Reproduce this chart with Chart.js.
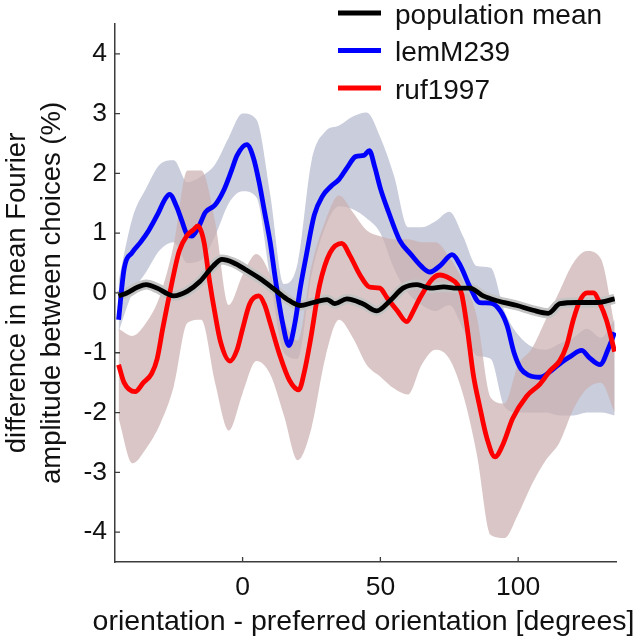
<!DOCTYPE html>
<html><head><meta charset="utf-8">
<script src="https://cdn.jsdelivr.net/npm/chart.js@4.4.1/dist/chart.umd.min.js"></script>
<style>html,body{margin:0;padding:0;background:#fff;}canvas{display:block;}</style>
</head><body>
<canvas id="c" width="635" height="640"></canvas>
<script>
// ---------- data ----------
const xTickValues = [0, 50, 100];
const yTickValues = [-4, -3, -2, -1, 0, 1, 2, 3, 4];
const xTitle = 'orientation - preferred orientation [degrees]';
const yTitle = ['difference in mean Fourier', 'amplitude between choices (%)'];

// population mean
const popAngles = [-45,-42,-38,-35,-31,-27,-25,-20,-15.5,-10.5,-7.5,-3.5,1.5,6.3,11,16,20.9,25.6,30.7,33.5,37.8,43.6,48.7,53.5,58.2,63.3,68,73,77.8,82.5,87.3,92.3,99.6,105.4,110.9,115.2,121.4,128.6,135];
const popMean = [-0.05,0.0,0.1,0.14,0.08,-0.02,-0.05,0.03,0.19,0.46,0.56,0.51,0.38,0.24,0.08,-0.1,-0.21,-0.16,-0.11,-0.18,-0.1,-0.18,-0.3,-0.13,0.08,0.14,0.08,0.1,0.08,0.08,-0.05,-0.13,-0.21,-0.29,-0.34,-0.18,-0.16,-0.16,-0.1];

// lemM239
const lemAngles = [-45,-43,-40,-37,-34,-31,-28,-26.5,-24,-22,-20,-18.5,-16,-13.5,-10,-7,-4,-2,1.5,4,6,8,10,12,14.5,16.8,19,21,23,26,29,32,35,38,41,44,46,48,50,53,57,61,65,68,72,76,79,82.5,86,90,93.5,96,98.5,101,104,108,112,116,119,123,126,129.7,133,135];
const lemMean = [-0.45,0.4,0.68,0.85,1.05,1.3,1.58,1.65,1.45,1.2,0.97,0.95,1.1,1.35,1.47,1.7,2.05,2.3,2.48,2.25,1.85,1.35,0.85,0.2,-0.5,-0.88,-0.5,0.1,0.6,1.3,1.62,1.78,1.9,2.1,2.28,2.3,2.38,2.1,1.75,1.35,0.88,0.65,0.44,0.35,0.47,0.64,0.46,0.1,-0.16,-0.17,-0.3,-0.55,-1.0,-1.27,-1.38,-1.41,-1.3,-1.15,-1.06,-0.96,-1.09,-1.2,-0.9,-0.66];

// ruf1997
const rufAngles = [-45,-43,-39,-36,-33,-31,-29,-26.5,-23,-20,-18,-16.2,-14,-12,-10,-8,-4.6,-2,0,2.6,5.9,8,10,13.5,17,20.4,22.5,24.5,28,31.7,36,39,42.6,46,49.8,52.4,56,59.6,62,64.4,69,71.6,75.3,77.8,79.5,81.4,83.7,86,88.6,91.6,94.5,98,103,108,111.6,115,117.6,120,122.4,125,127.3,129.7,132,135];
const rufMean = [-1.2,-1.5,-1.65,-1.5,-1.35,-1.1,-0.6,-0.02,0.7,0.97,1.05,1.12,0.85,0.2,-0.35,-0.82,-1.14,-0.95,-0.6,-0.18,-0.05,-0.2,-0.5,-1.04,-1.46,-1.62,-1.3,-0.82,0.14,0.67,0.83,0.62,0.3,0.1,0.08,-0.08,-0.29,-0.48,-0.3,-0.08,0.24,0.3,0.24,0.15,-0.02,-0.55,-1.36,-1.89,-2.42,-2.74,-2.53,-2.1,-1.73,-1.52,-1.3,-1.14,-0.88,-0.45,-0.13,0.0,0.0,-0.18,-0.45,-0.98];

// error bands (5 degree steps)
const bandAngles = [-45,-40,-35,-30,-25,-20,-15,-10,-5,0,5,10,15,20,25,30,35,40,45,50,55,60,65,70,75,80,85,90,95,100,105,110,115,120,125,130,135];
const lemUpper = [0.2,1.25,1.75,2.15,2.22,1.85,1.95,2.15,2.6,3.0,2.9,1.65,0.15,0.5,2.2,2.7,2.8,2.95,3.02,2.6,1.95,1.1,1.1,1.2,1.36,0.95,0.45,0.42,-0.3,-0.7,-0.9,-0.95,-0.85,-0.75,-0.6,-0.75,-0.45];
const lemLower = [-0.65,0.0,0.35,0.72,0.85,0.5,0.55,0.95,1.5,1.7,1.6,0.25,-1.0,-1.1,0.3,1.1,1.45,1.4,1.25,1.0,0.4,0.0,-0.2,-0.3,-0.2,-0.6,-1.05,-1.1,-1.9,-2.0,-2.0,-2.0,-2.05,-2.05,-2.0,-2.0,-2.05];
const rufUpper = [-0.6,-0.72,-0.5,-0.05,0.8,2.05,2.05,1.2,-0.2,0.3,0.65,0.3,-0.45,-0.8,0.45,1.2,1.63,1.35,1.05,0.95,0.9,0.9,0.85,0.85,0.6,0.2,-0.4,-1.75,-1.85,-1.2,-0.93,-0.45,0.03,0.5,0.7,0.57,-0.55];
const rufLower = [-2.1,-2.85,-2.6,-2.2,-1.57,-0.5,-0.45,-1.5,-2.3,-1.68,-1.14,-1.36,-2.05,-2.8,-2.26,-1.09,-0.45,-0.75,-1.2,-1.4,-1.6,-1.7,-1.2,-0.95,-1.1,-1.7,-2.7,-4.05,-4.1,-3.7,-3.2,-2.8,-2.5,-1.95,-1.6,-1.5,-2.0];

// ---------- helpers ----------
const pts = (xs, ys) => xs.map((x, i) => ({x: x, y: ys[i]}));
const FONT = "'Liberation Sans', Arial, Helvetica, sans-serif";
const TXT = '#111111';
const AXIS = '#3c3c3c';

const base = {pointRadius: 0, pointHoverRadius: 0, cubicInterpolationMode: 'monotone', spanGaps: true};

const datasets = [
  Object.assign({}, base, {label: 'lemM239 lower', data: pts(bandAngles, lemLower), borderWidth: 0, borderColor: 'rgba(0,0,0,0)', fill: false, order: 10}),
  Object.assign({}, base, {label: 'lemM239 upper', data: pts(bandAngles, lemUpper), borderWidth: 0, borderColor: 'rgba(0,0,0,0)', fill: '-1', backgroundColor: 'rgb(201,205,220)', order: 10}),
  Object.assign({}, base, {label: 'ruf1997 lower', data: pts(bandAngles, rufLower), borderWidth: 0, borderColor: 'rgba(0,0,0,0)', fill: false, order: 8}),
  Object.assign({}, base, {label: 'ruf1997 upper', data: pts(bandAngles, rufUpper), borderWidth: 0, borderColor: 'rgba(0,0,0,0)', fill: '-1', backgroundColor: 'rgba(204,176,176,0.72)', order: 8}),
  Object.assign({}, base, {label: 'population mean band', data: pts(popAngles, popMean), borderWidth: 10, borderColor: 'rgb(196,196,196)', fill: false, order: 5}),
  Object.assign({}, base, {label: 'lemM239', data: pts(lemAngles, lemMean), borderWidth: 4.8, borderColor: 'rgb(0,0,255)', fill: false, order: 3, legendRow: 1}),
  Object.assign({}, base, {label: 'ruf1997', data: pts(rufAngles, rufMean), borderWidth: 4.8, borderColor: 'rgb(255,0,0)', fill: false, order: 2, legendRow: 2}),
  Object.assign({}, base, {label: 'population mean', data: pts(popAngles, popMean), borderWidth: 4.8, borderColor: 'rgb(0,0,0)', fill: false, order: 1, legendRow: 0})
];

// inward tick marks
const insideTicks = {
  id: 'insideTicks',
  afterDatasetsDraw(chart) {
    const {ctx, chartArea: a, scales: {x, y}} = chart;
    ctx.save();
    ctx.strokeStyle = AXIS; ctx.lineWidth = 1.3;
    ctx.beginPath();
    x.ticks.forEach(t => { const px = x.getPixelForValue(t.value); ctx.moveTo(px, a.bottom); ctx.lineTo(px, a.bottom - 5); });
    y.ticks.forEach(t => { const py = y.getPixelForValue(t.value); ctx.moveTo(a.left, py); ctx.lineTo(a.left + 5, py); });
    ctx.stroke();
    ctx.restore();
  }
};

// x-axis title (drawn without width limit, centred under the plot)
const xAxisTitle = {
  id: 'xAxisTitle',
  afterDraw(chart) {
    const {ctx, chartArea: a} = chart;
    ctx.save();
    ctx.font = '28.5px ' + FONT;
    ctx.fillStyle = TXT;
    ctx.textAlign = 'center';
    ctx.textBaseline = 'alphabetic';
    ctx.fillText(xTitle, (a.left + a.right) / 2 - 2, chart.height - 10);
    ctx.restore();
  }
};

// legend drawn inside the plot (top right)
const insideLegend = {
  id: 'insideLegend',
  afterDraw(chart) {
    const {ctx} = chart;
    const rowsY = [13, 50.5, 88];
    ctx.save();
    ctx.font = '28px ' + FONT;
    ctx.textBaseline = 'alphabetic';
    ctx.textAlign = 'left';
    chart.data.datasets.forEach(ds => {
      if (ds.legendRow === undefined) return;
      const yy = rowsY[ds.legendRow];
      ctx.strokeStyle = ds.borderColor; ctx.lineWidth = 5; ctx.lineCap = 'butt';
      ctx.beginPath(); ctx.moveTo(338, yy); ctx.lineTo(381, yy); ctx.stroke();
      ctx.fillStyle = TXT;
      ctx.fillText(ds.label, 395, yy + 10.5);
    });
    ctx.restore();
  }
};

new Chart(document.getElementById('c'), {
  type: 'line',
  data: {datasets: datasets},
  options: {
    responsive: false, animation: false, devicePixelRatio: 1,
    layout: {padding: {left: 0, right: 19, top: 2, bottom: 0}},
    plugins: {legend: {display: false}, tooltip: {enabled: false}},
    events: [],
    scales: {
      x: {
        type: 'linear', min: -46.3, max: 135.5,
        afterBuildTicks: s => { s.ticks = xTickValues.map(v => ({value: v})); },
        afterFit: s => { s.height = 78; },
        grid: {display: true, drawOnChartArea: false, drawTicks: false},
        border: {display: true, color: AXIS, width: 1.5},
        ticks: {font: {family: FONT, size: 26.5}, color: TXT, padding: 10, maxRotation: 0, autoSkip: false},
        title: {display: false}
      },
      y: {
        type: 'linear', min: -4.5, max: 4.5,
        afterBuildTicks: s => { s.ticks = yTickValues.map(v => ({value: v})); },
        afterFit: s => { s.width = 115; },
        grid: {display: true, drawOnChartArea: false, drawTicks: false},
        border: {display: true, color: AXIS, width: 1.5},
        ticks: {font: {family: FONT, size: 26.5}, color: TXT, padding: 8, autoSkip: false},
        title: {display: true, text: yTitle, font: {family: FONT, size: 27.5, lineHeight: 1.28}, color: TXT, padding: {top: 0, bottom: 0}}
      }
    }
  },
  plugins: [insideTicks, xAxisTitle, insideLegend]
});
</script>
</body></html>
